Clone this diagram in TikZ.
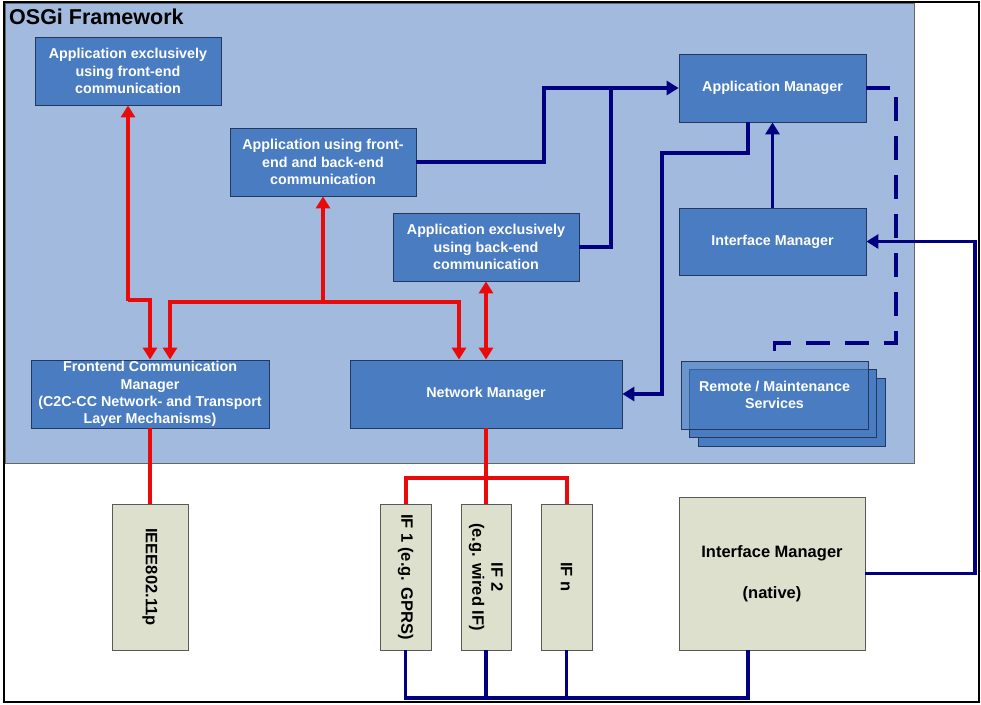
\documentclass[tikz,border=0pt]{standalone}
\usepackage{fontspec}
\setmainfont{Liberation Sans}
\usetikzlibrary{arrows.meta}
\definecolor{osgibg}{RGB}{161,186,222}
\definecolor{boxblue}{RGB}{74,124,194}
\definecolor{boxedge}{RGB}{35,55,95}
\definecolor{beige}{RGB}{222,224,206}
\definecolor{navyc}{RGB}{0,0,128}
\definecolor{redc}{RGB}{235,10,10}
\begin{document}
\begin{tikzpicture}[x=1pt,y=-1pt,
 bluebox/.style={draw=boxedge, line width=0.8pt, fill=boxblue, text=white, font=\bfseries\fontsize{14.3}{17.3}\selectfont, align=center, inner sep=0pt},
 beigebox/.style={draw=gray!70!black, line width=0.8pt, fill=beige, text=black, font=\bfseries\fontsize{16.5}{19}\selectfont, align=center, inner sep=0pt},
 vtext/.style={text=black, font=\bfseries\fontsize{16.5}{19}\selectfont, align=center, inner sep=0pt, rotate=-90},
 redcon/.style={draw=redc, line width=4pt},
 navycon/.style={draw=navyc, line width=3.5pt},
 tip/.style={-{Triangle[length=12pt,width=14pt]}},
 tips/.style={{Triangle[length=12pt,width=14pt]}-{Triangle[length=12pt,width=14pt]}}
]
\useasboundingbox (0,0) rectangle (981,704);
\fill[white] (0,0) rectangle (981,704);
% framework background
\draw[fill=osgibg, draw=gray!80!black, line width=1pt] (5,3) rectangle (914,463);
\node[anchor=north west, inner sep=0pt, font=\bfseries\fontsize{21.5}{25}\selectfont] (title) at (9,9) {OSGi Framework};

% blue boxes
\node[bluebox, minimum width=186pt, minimum height=68pt] (app1) at (128,71) {Application exclusively\\using front-end\\communication};
\node[bluebox, minimum width=186pt, minimum height=68pt] (app2) at (323,162) {Application using front-\\end and back-end\\communication};
\node[bluebox, minimum width=186pt, minimum height=68pt] (app3) at (486,247) {Application exclusively\\using back-end\\communication};
\node[bluebox, minimum width=187pt, minimum height=68pt] (appmgr) at (772.5,88) {Application Manager};
\node[bluebox, minimum width=187pt, minimum height=67pt] (ifmgr) at (772.5,241.5) {Interface Manager};
\node[bluebox, minimum width=238pt, minimum height=68pt] (fcm) at (150,394) {Frontend Communication\\Manager\\(C2C-CC Network- and Transport\\Layer Mechanisms)};
\node[bluebox, minimum width=272pt, minimum height=68pt] (netmgr) at (486,394) {Network Manager};
\node[bluebox, minimum width=187pt, minimum height=68pt] (rm3) at (791.5,412) {};
\node[bluebox, minimum width=187pt, minimum height=68pt] (rm2) at (783,403) {};
\node[bluebox, minimum width=187pt, minimum height=68pt, fill opacity=0.6, text opacity=1] (remote) at (774.5,395) {Remote / Maintenance\\Services};

% beige boxes
\node[beigebox, minimum width=76pt, minimum height=146pt] (ieee) at (150,577) {};
\node[vtext] (ieeet) at (ieee.center) {IEEE802.11p};
\node[beigebox, minimum width=51pt, minimum height=146pt] (if1) at (405.5,577) {};
\node[vtext] (if1t) at (if1.center) {IF 1 (e.g. GPRS)};
\node[beigebox, minimum width=50pt, minimum height=146pt] (if2) at (486,577) {};
\node[vtext] (if2t) at (if2.center) {IF 2\\(e.g. wired IF)};
\node[beigebox, minimum width=51pt, minimum height=146pt] (ifn) at (566.5,577) {};
\node[vtext] (ifnt) at (ifn.center) {IF n};
\node[beigebox, minimum width=186pt, minimum height=153pt] (native) at (772,573.5) {Interface Manager\\[22pt](native)};

% red connectors
\draw[redcon, tip] (128,300) -- (150,300) -- (fcm.north);
\draw[redcon, tip] (128,301) -- (app1.south);
\coordinate (rj) at (323,302);
\draw[redcon, tip] (rj) -- (app2.south);
\draw[redcon, tip] (rj) -- (170,302) -- ([xshift=20pt]fcm.north);
\draw[redcon, tip] (rj) -- (459,302) -- ([xshift=-27pt]netmgr.north);
\draw[redcon, tips] (app3.south) -- (netmgr.north);
\draw[redcon] (fcm.south) -- (ieee.north);
\draw[redcon] (netmgr.south) -- (if2.north);
\draw[redcon] (if1.north) -- (405.5,478) -- (566.5,478) -- (ifn.north);

% navy connectors
\draw[navycon, tip] (app2.east) -- (544,162) -- (544,88) -- (appmgr.west);
\draw[navycon] (app3.east) -- (611,247) -- (611,88);
\draw[navycon, tip] ([xshift=-24.5pt]appmgr.south) -- (748,153) -- (662,153) -- (662,394) -- (netmgr.east);
\draw[navycon, tip] (ifmgr.north) -- (appmgr.south);
\draw[navycon, dash pattern=on 24pt off 15pt] (appmgr.east) -- (896,88) -- (896,343) -- (774.5,343) -- (remote.north);
\draw[navycon, tip] (native.east) -- (975,573.5) -- (975,241.5) -- (ifmgr.east);
\draw[navycon] (if1.south) -- (405.5,698) -- (748,698) -- ([xshift=-24pt]native.south);
\draw[navycon] (if2.south) -- (486,698);
\draw[navycon] (ifn.south) -- (566.5,698);

% outer frame
\draw[black, line width=2pt] (4,2) rectangle (979,702);
\end{tikzpicture}
\end{document}
